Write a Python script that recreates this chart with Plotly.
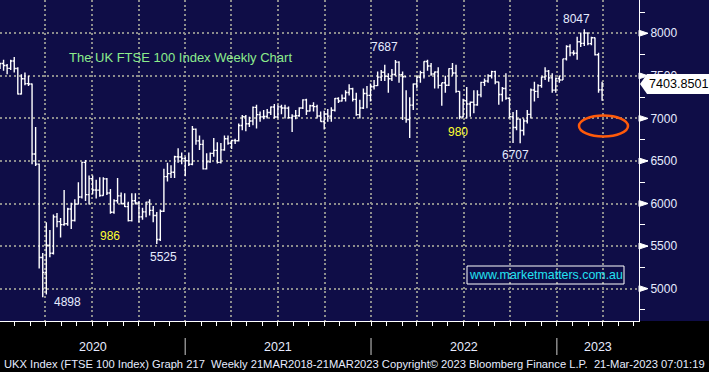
import pandas as pd
import plotly.graph_objects as go

# ---------------- data (weekly OHLC, FTSE 100, bars dated by week-ending Friday) ----------------
first_week = "2019-12-27"

opens = [
    7590,
    # 2020
    7645, 7622, 7588, 7675, 7586, 7286, 7466, 7409, 7404, 6581, 6463, 5366, 5191, 5510, 5416, 5843,
    5787, 5752, 5763, 5936, 5800, 5993, 6077, 6484, 6105, 6293, 6159, 6157, 6095, 6290, 6124, 5898,
    6032, 6090, 6002, 5964, 5799, 6032, 6007, 5843, 5902, 6017, 5920, 5860, 5577, 5910, 6316, 6351,
    6367, 6550, 6547, 6529,
    # 2021
    6502, 6461, 6873, 6736, 6695, 6407, 6489, 6589, 6624, 6483, 6630, 6761, 6709, 6741, 6737, 6916,
    7020, 6938, 6970, 7130, 7044, 7018, 7023, 7070, 7134, 7017, 7136, 7123, 7121, 7008, 7027, 7032,
    7122, 7218, 7087, 7148, 7138, 7029, 6963, 7051, 7027, 7096, 7234, 7205, 7237, 7304, 7348, 7224,
    7044, 7122, 7292, 7270, 7372,
    # 2022
    7385, 7485, 7543, 7494, 7466, 7516, 7661, 7514, 7489, 6987, 7156, 7405, 7483, 7538, 7669, 7616,
    7521, 7545, 7388, 7418, 7390, 7585, 7533, 7318, 7016, 7208, 7169, 7189, 7159, 7276, 7423, 7440,
    7501, 7550, 7427, 7281, 7351, 7237, 7019, 6894, 6991, 6858, 6970, 7047, 7334, 7318, 7385, 7486,
    7556, 7476, 7332, 7469,
    # 2023
    7452, 7699, 7844, 7770, 7765, 7901, 7882, 8004, 7879, 7947, 7748, 7335,
]

highs = [
    7650,
    # 2020
    7690, 7640, 7690, 7720, 7600, 7520, 7540, 7500, 7410, 6900, 6470, 5420, 5780, 5690, 5870, 5890,
    5830, 6160, 5950, 6010, 6050, 6250, 6490, 6512, 6330, 6330, 6280, 6310, 6310, 6300, 6170, 6050,
    6300, 6130, 6120, 6020, 6120, 6120, 6030, 5950, 6020, 6050, 5970, 5900, 5930, 6410, 6480, 6450,
    6560, 6650, 6600, 6550,
    # 2021
    6600, 6910, 6880, 6800, 6750, 6590, 6600, 6770, 6720, 6710, 6800, 6800, 6750, 6760, 6940, 7040,
    7040, 7020, 7140, 7160, 7080, 7100, 7110, 7140, 7170, 7160, 7160, 7160, 7140, 7050, 7100, 7130,
    7225, 7230, 7160, 7190, 7160, 7080, 7090, 7110, 7130, 7240, 7250, 7280, 7330, 7400, 7360, 7300,
    7220, 7350, 7380, 7410, 7450,
    # 2022
    7550, 7570, 7630, 7530, 7580, 7687, 7670, 7550, 7330, 7250, 7410, 7500, 7560, 7670, 7690, 7650,
    7550, 7600, 7420, 7500, 7590, 7650, 7630, 7320, 7230, 7370, 7200, 7330, 7330, 7430, 7470, 7520,
    7560, 7560, 7430, 7370, 7530, 7250, 7075, 7100, 7000, 7000, 7100, 7350, 7430, 7400, 7490, 7600,
    7570, 7530, 7480, 7500,
    # 2023
    7700, 7860, 7870, 7800, 7960, 8010, 8047, 8010, 7960, 7950, 7770, 7430,
]

lows = [
    7580,
    # 2020
    7560, 7520, 7570, 7540, 7280, 7280, 7390, 7380, 6460, 6440, 5237, 4898, 4930, 5370, 5400, 5720,
    5600, 5740, 5740, 5700, 5790, 5990, 6060, 6030, 5990, 6110, 6060, 6080, 6090, 6100, 5880, 5880,
    6000, 5990, 5960, 5790, 5790, 5990, 5780, 5810, 5840, 5860, 5780, 5526, 5560, 5900, 6260, 6300,
    6300, 6480, 6460, 6320,
    # 2021
    6440, 6450, 6690, 6630, 6400, 6400, 6480, 6550, 6470, 6470, 6620, 6690, 6640, 6700, 6730, 6860,
    6850, 6900, 6920, 6880, 6960, 6990, 7000, 7040, 7000, 7000, 7050, 7000, 7000, 6840, 6990, 7020,
    7110, 7040, 7080, 7080, 7000, 6960, 6870, 6960, 6960, 7080, 7180, 7200, 7200, 7270, 7200, 7030,
    7000, 7110, 7120, 7200, 7340,
    # 2022
    7380, 7440, 7440, 7300, 7440, 7500, 7420, 6980, 6950, 6770, 7100, 7350, 7420, 7470, 7560, 7500,
    7350, 7350, 7150, 7300, 7380, 7500, 7300, 6990, 7010, 7000, 7020, 7060, 7150, 7250, 7380, 7420,
    7470, 7400, 7160, 7200, 7220, 7000, 6710, 6860, 6707, 6800, 6940, 7000, 7200, 7240, 7360, 7450,
    7430, 7300, 7300, 7420,
    # 2023
    7450, 7680, 7730, 7740, 7690, 7840, 7850, 7860, 7860, 7740, 7300, 7206,
]

closes = [
    7645,
    # 2020
    7622, 7588, 7675, 7586, 7286, 7466, 7409, 7404, 6581, 6463, 5366, 5191, 5510, 5416, 5843, 5787,
    5752, 5763, 5936, 5800, 5993, 6077, 6484, 6105, 6293, 6159, 6157, 6095, 6290, 6124, 5898, 6032,
    6090, 6002, 5964, 5799, 6032, 6007, 5843, 5902, 6017, 5920, 5860, 5577, 5910, 6316, 6351, 6367,
    6550, 6547, 6529, 6502,
    # 2021
    6461, 6873, 6736, 6695, 6407, 6489, 6589, 6624, 6483, 6630, 6761, 6709, 6741, 6737, 6916, 7020,
    6938, 6970, 7130, 7044, 7018, 7023, 7070, 7134, 7017, 7136, 7123, 7121, 7008, 7027, 7032, 7122,
    7218, 7087, 7148, 7138, 7029, 6963, 7051, 7027, 7096, 7234, 7205, 7237, 7304, 7348, 7224, 7044,
    7122, 7292, 7270, 7372, 7385,
    # 2022
    7485, 7543, 7494, 7466, 7516, 7661, 7514, 7489, 6987, 7156, 7405, 7483, 7538, 7669, 7616, 7521,
    7545, 7388, 7418, 7390, 7585, 7533, 7318, 7016, 7208, 7169, 7189, 7159, 7276, 7423, 7440, 7501,
    7550, 7427, 7281, 7351, 7237, 7019, 6894, 6991, 6858, 6970, 7047, 7334, 7318, 7385, 7486, 7556,
    7476, 7332, 7469, 7452,
    # 2023
    7699, 7844, 7770, 7765, 7901, 7882, 8004, 7879, 7947, 7748, 7335, 7403.8501,
]

week_dates = pd.date_range(first_week, periods=len(closes), freq="7D")

y_ticks = [5000, 5500, 6000, 6500, 7000, 7500, 8000]
year_labels = ["2020", "2021", "2022", "2023"]
year_breaks = ["2020-12-25", "2021-12-25", "2022-12-25"]
last_price = 7403.8501
last_price_text = "7403.8501"

title_text = "The UK FTSE 100 Index Weekly Chart"
watermark_text = "www.marketmatters.com.au"
footer_text = ("UKX Index (FTSE 100 Index) Graph 217\u00a0 Weekly 21MAR2018-21MAR2023 "
               "Copyright\u00a9 2023 Bloomberg Finance L.P.\u00a0 21-Mar-2023 07:01:19")

# labels: text, centre pixel x, centre pixel y, colour key
callouts = [
    ("7687", 384, 47, "white"),
    ("8047", 576, 19, "white"),
    ("4898", 67, 302, "white"),
    ("5525", 163, 257, "white"),
    ("6707", 515, 155, "white"),
    ("986", 110, 236, "yellow"),
    ("980", 458, 132, "yellow"),
]

# ---------------- styling ----------------
W, H = 709, 372
ML, MR, MT, MB = 0, 70, 0, 51
PW, PH = W - ML - MR, H - MT - MB
NAVY = "#0f0d47"
GRID = "#8c8c8c"
TXT = "#e6ecff"
FONT = "Liberation Sans, Arial, sans-serif"
x_range = [pd.Timestamp("2019-12-27"), pd.Timestamp("2023-06-04 12:00")]
y_range = [4620, 8391]
units_per_px = (y_range[1] - y_range[0]) / PH


def px_x(px):
    return px / PW


def px_y(py):
    return 1 - py / PH


fig = go.Figure()
fig.add_trace(go.Ohlc(
    x=week_dates, open=opens, high=highs, low=lows, close=closes,
    increasing=dict(line=dict(color="white", width=1.4)),
    decreasing=dict(line=dict(color="white", width=1.4)),
    tickwidth=0.45, hoverinfo="skip", showlegend=False,
))

shapes = []
# navy background continues into right margin
shapes.append(dict(type="rect", xref="paper", yref="paper", x0=1, x1=1.2, y0=0, y1=1,
                   fillcolor=NAVY, line=dict(width=0), layer="below"))
# triangle markers on major y ticks
tri_w = 9 / PW
tri_h = 3 * units_per_px
for v in y_ticks:
    shapes.append(dict(type="path", xref="paper", yref="y",
                       path=f"M 1,{v - tri_h} L {1 + tri_w},{v} L 1,{v + tri_h} Z",
                       fillcolor="white", line=dict(color="white", width=1)))
# last price flag
bh = 10 * units_per_px
x_tip = 1 + 1 / PW
x_base = 1 + 8 / PW
x_end = W / PW
shapes.append(dict(type="path", xref="paper", yref="y",
                   path=(f"M {x_tip},{last_price} L {x_base},{last_price + bh} "
                         f"L {x_end},{last_price + bh} L {x_end},{last_price - bh} "
                         f"L {x_base},{last_price - bh} Z"),
                   fillcolor="white", line=dict(color="white", width=0)))
# orange ellipse
shapes.append(dict(type="circle", xref="paper", yref="paper",
                   x0=px_x(579), x1=px_x(628), y0=px_y(136.5), y1=px_y(115.5),
                   line=dict(color="#ff5a0a", width=2.5)))
# watermark box
shapes.append(dict(type="rect", xref="paper", yref="paper",
                   x0=px_x(467), x1=px_x(624), y0=px_y(284), y1=px_y(266),
                   line=dict(color="white", width=1)))
# year separators below axis
for d in year_breaks:
    shapes.append(dict(type="line", xref="x", yref="paper", x0=d, x1=d,
                       y0=px_y(355), y1=px_y(338), line=dict(color="#8a8a8a", width=1.5)))

annotations = []
annotations.append(dict(text=title_text, xref="paper", yref="paper", x=px_x(67), y=px_y(57),
                        xanchor="left", yanchor="middle", showarrow=False,
                        font=dict(family=FONT, size=13, color="#8cec8c")))
colors = {"white": TXT, "yellow": "#ffff30"}
for txt, cx, cy, ck in callouts:
    annotations.append(dict(text=txt, xref="paper", yref="paper", x=px_x(cx), y=px_y(cy),
                            xanchor="center", yanchor="middle", showarrow=False,
                            font=dict(family=FONT, size=12, color=colors[ck])))
annotations.append(dict(text=last_price_text, xref="paper", yref="y", x=1 + 7.5 / PW, y=last_price,
                        xanchor="left", yanchor="middle", showarrow=False,
                        font=dict(family=FONT, size=12.6, color="black")))
annotations.append(dict(text=watermark_text, xref="paper", yref="paper", x=px_x(545.5), y=px_y(275),
                        xanchor="center", yanchor="middle", showarrow=False,
                        font=dict(family=FONT, size=12.4, color="#22e2f2")))
bounds = [x_range[0]] + [pd.Timestamp(d) for d in year_breaks] + [x_range[1]]
for i, lab in enumerate(year_labels):
    mid = bounds[i] + (bounds[i + 1] - bounds[i]) / 2
    annotations.append(dict(text=lab, xref="x", yref="paper", x=mid, y=px_y(347),
                            xanchor="center", yanchor="middle", showarrow=False,
                            font=dict(family=FONT, size=12.5, color=TXT)))
annotations.append(dict(text=footer_text, xref="paper", yref="paper", x=px_x(2), y=px_y(364),
                        xanchor="left", yanchor="middle", showarrow=False,
                        font=dict(family=FONT, size=11.2, color=TXT)))

fig.update_layout(
    width=W, height=H,
    margin=dict(l=ML, r=MR, t=MT, b=MB, pad=0),
    paper_bgcolor="#000000", plot_bgcolor=NAVY,
    showlegend=False,
    font=dict(family=FONT, color=TXT),
    shapes=shapes, annotations=annotations,
    xaxis=dict(
        type="date", range=x_range, rangeslider=dict(visible=False),
        showgrid=True, gridcolor=GRID, gridwidth=2, griddash="2px,2.7px",
        tick0="2019-12-25", dtick="M3", ticks="outside", ticklen=4, tickcolor="white", tickwidth=1,
        showticklabels=False, showline=True, linecolor="white", linewidth=1, zeroline=False,
        minor=dict(tick0="2019-12-25", dtick="M1", ticks="outside", ticklen=4,
                   tickcolor="white", tickwidth=1, showgrid=False),
        fixedrange=True,
    ),
    yaxis=dict(
        side="right", range=y_range, tickmode="array", tickvals=y_ticks,
        showgrid=True, gridcolor=GRID, gridwidth=2, griddash="2px,2.7px",
        ticks="outside", ticklen=8, tickcolor="white", tickwidth=1,
        tickfont=dict(family=FONT, size=12, color=TXT),
        showline=True, linecolor="white", linewidth=1, zeroline=False,
        minor=dict(tick0=0, dtick=250, ticks="outside", ticklen=5, tickcolor="white",
                   tickwidth=1, showgrid=False),
        fixedrange=True,
    ),
)

fig.write_html("out.html", include_plotlyjs=True, config={"displayModeBar": False},
               post_script="document.body.style.margin='0';document.body.style.overflow='hidden';")
